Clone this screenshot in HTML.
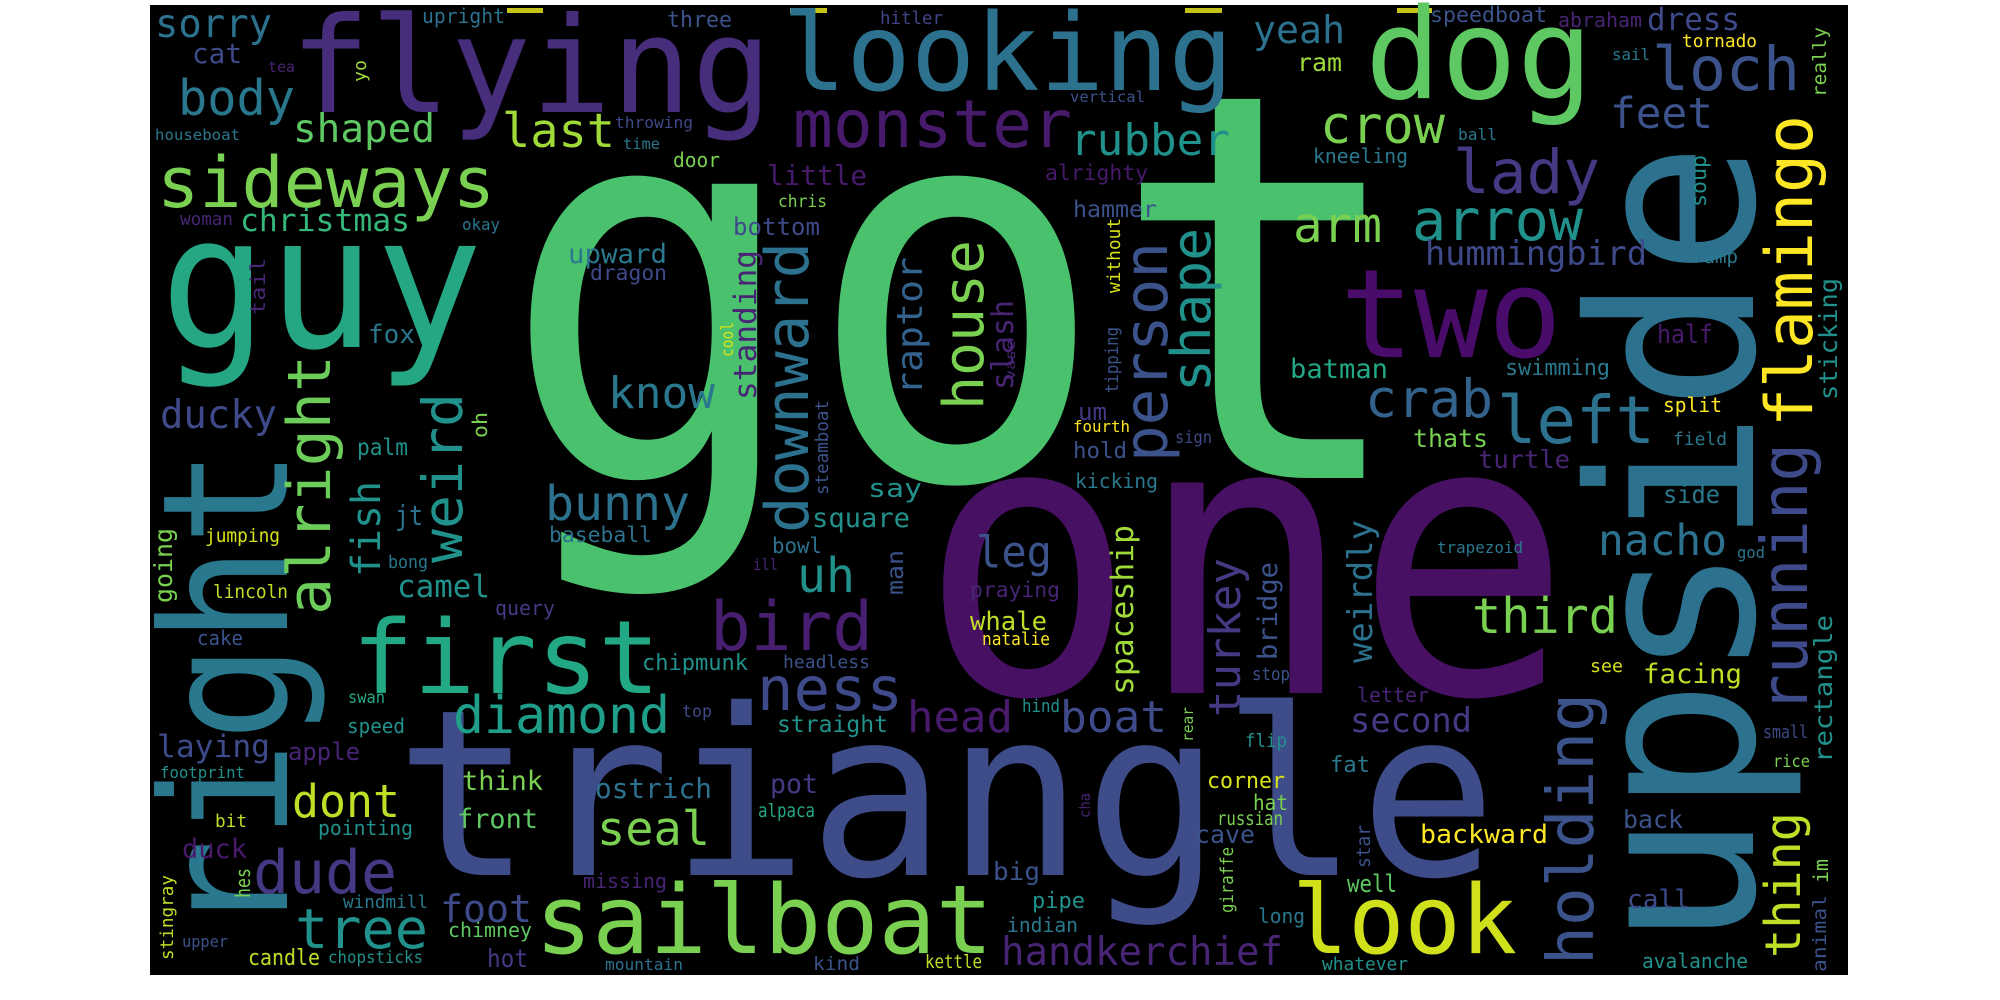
<!DOCTYPE html>
<html>
<head>
<meta charset="utf-8">
<style>
html,body{margin:0;padding:0;background:#fff;width:2000px;height:1000px;overflow:hidden}
svg{display:block}
text{font-family:"DejaVu Sans Mono","Liberation Mono",monospace}
</style>
</head>
<body>
<svg width="2000" height="1000" viewBox="0 0 2000 1000" xmlns="http://www.w3.org/2000/svg">
<rect x="150" y="5" width="1698" height="970" fill="#000"/>
<g fill="#c4c41c">
<rect x="507" y="8" width="36" height="5"/>
<rect x="790" y="8" width="37" height="5"/>
<rect x="1185" y="8" width="37" height="5"/>
<rect x="1397" y="8" width="35" height="5"/>
</g>
<g>
<!-- large words -->
<text x="500" y="478" font-size="540" fill="#4ac16d" textLength="913" lengthAdjust="spacingAndGlyphs">got</text>
<text x="919" y="693" font-size="385" fill="#471063" textLength="653" lengthAdjust="spacingAndGlyphs">one</text>
<text x="395" y="875" font-size="232" fill="#3e4c8a" textLength="1102" lengthAdjust="spacingAndGlyphs">triangle</text>
<text transform="translate(1753,948) rotate(-90)" font-size="228" fill="#2c718e" textLength="806" lengthAdjust="spacingAndGlyphs">upside</text>
<text transform="translate(287,937) rotate(-90)" font-size="175" fill="#2a788e" textLength="489" lengthAdjust="spacingAndGlyphs">right</text>
<text x="160" y="347" font-size="185" fill="#26a784" textLength="323" lengthAdjust="spacingAndGlyphs">guy</text>
<text x="290" y="112" font-size="133" fill="#472d7b" textLength="482" lengthAdjust="spacingAndGlyphs">flying</text>
<text x="782" y="90" font-size="107" fill="#2c718e" textLength="451" lengthAdjust="spacingAndGlyphs">looking</text>
<text x="1365" y="98" font-size="126" fill="#5ec962" textLength="228" lengthAdjust="spacingAndGlyphs">dog</text>
<text x="1340" y="357" font-size="123" fill="#4a0c6b" textLength="222" lengthAdjust="spacingAndGlyphs">two</text>
<text x="535" y="953" font-size="95" fill="#7ad151" textLength="458" lengthAdjust="spacingAndGlyphs">sailboat</text>
<text x="1292" y="953" font-size="95" fill="#d0e11c" textLength="225" lengthAdjust="spacingAndGlyphs">look</text>
<text x="352" y="693" font-size="102" fill="#22a884" textLength="308" lengthAdjust="spacingAndGlyphs">first</text>
<text x="157" y="207" font-size="70" fill="#7ad151" textLength="338" lengthAdjust="spacingAndGlyphs">sideways</text>
<text x="793" y="147" font-size="66" fill="#481a6c" textLength="279" lengthAdjust="spacingAndGlyphs">monster</text>
<text x="710" y="650" font-size="68" fill="#481f70" textLength="163" lengthAdjust="spacingAndGlyphs">bird</text>
<text x="757" y="710" font-size="61" fill="#3e4a89" textLength="146" lengthAdjust="spacingAndGlyphs">ness</text>
<!-- vertical words -->
<text transform="translate(1167,462) rotate(-90)" font-size="61" fill="#3b528b" textLength="220" lengthAdjust="spacingAndGlyphs">person</text>
<text transform="translate(1210,392) rotate(-90)" font-size="54" fill="#21918c" textLength="164" lengthAdjust="spacingAndGlyphs">shape</text>
<text transform="translate(1812,427) rotate(-90)" font-size="65" fill="#fde725" textLength="312" lengthAdjust="spacingAndGlyphs">flamingo</text>
<text transform="translate(1807,713) rotate(-90)" font-size="64" fill="#3e4a89" textLength="270" lengthAdjust="spacingAndGlyphs">running</text>
<text transform="translate(1593,965) rotate(-90)" font-size="64" fill="#3b528b" textLength="272" lengthAdjust="spacingAndGlyphs">holding</text>
<text transform="translate(983,410) rotate(-90)" font-size="56" fill="#7ad151" textLength="170" lengthAdjust="spacingAndGlyphs">house</text>
<text transform="translate(808,533) rotate(-90)" font-size="60" fill="#2c718e" textLength="291" lengthAdjust="spacingAndGlyphs">downward</text>
<text transform="translate(330,615) rotate(-90)" font-size="60" fill="#6ccd5a" textLength="260" lengthAdjust="spacingAndGlyphs">alright</text>
<text transform="translate(462,563) rotate(-90)" font-size="55" fill="#21918c" textLength="170" lengthAdjust="spacingAndGlyphs">weird</text>
<text transform="translate(380,577) rotate(-90)" font-size="40" fill="#21918c" textLength="96" lengthAdjust="spacingAndGlyphs">fish</text>
<text transform="translate(1240,717) rotate(-90)" font-size="44" fill="#443983" textLength="159" lengthAdjust="spacingAndGlyphs">turkey</text>
<text transform="translate(1372,663) rotate(-90)" font-size="34" fill="#2c718e" textLength="143" lengthAdjust="spacingAndGlyphs">weirdly</text>
<text transform="translate(1133,695) rotate(-90)" font-size="31" fill="#a0da39" textLength="170" lengthAdjust="spacingAndGlyphs">spaceship</text>
<text transform="translate(1277,660) rotate(-90)" font-size="27" fill="#3b528b" textLength="98" lengthAdjust="spacingAndGlyphs">bridge</text>
<text transform="translate(1800,958) rotate(-90)" font-size="49" fill="#bddf26" textLength="146" lengthAdjust="spacingAndGlyphs">thing</text>
<text transform="translate(756,400) rotate(-90)" font-size="31" fill="#482475" textLength="150" lengthAdjust="spacingAndGlyphs">standing</text>
<text transform="translate(922,395) rotate(-90)" font-size="36" fill="#33638d" textLength="138" lengthAdjust="spacingAndGlyphs">raptor</text>
<text transform="translate(1013,390) rotate(-90)" font-size="30" fill="#482475" textLength="90" lengthAdjust="spacingAndGlyphs">slash</text>
<text transform="translate(1832,763) rotate(-90)" font-size="25" fill="#21918c" textLength="148" lengthAdjust="spacingAndGlyphs">rectangle</text>
<text transform="translate(1837,400) rotate(-90)" font-size="25" fill="#21918c" textLength="122" lengthAdjust="spacingAndGlyphs">sticking</text>
<text transform="translate(1706,207) rotate(-90)" font-size="21" fill="#21918c" textLength="52" lengthAdjust="spacingAndGlyphs">soup</text>
<text transform="translate(1826,97) rotate(-90)" font-size="19" fill="#7ad151" textLength="70" lengthAdjust="spacingAndGlyphs">really</text>
<text transform="translate(1120,293) rotate(-90)" font-size="18" fill="#d8e219" textLength="75" lengthAdjust="spacingAndGlyphs">without</text>
<text transform="translate(1118,393) rotate(-90)" font-size="18" fill="#3b528b" textLength="66" lengthAdjust="spacingAndGlyphs">tipping</text>
<text transform="translate(1015,380) rotate(-90)" font-size="13" fill="#482475" textLength="40" lengthAdjust="spacingAndGlyphs">vase</text>
<text transform="translate(733,357) rotate(-90)" font-size="17" fill="#d8e219" textLength="35" lengthAdjust="spacingAndGlyphs">cool</text>
<text transform="translate(828,495) rotate(-90)" font-size="18" fill="#3b528b" textLength="95" lengthAdjust="spacingAndGlyphs">steamboat</text>
<text transform="translate(366,82) rotate(-90)" font-size="18" fill="#a0da39" textLength="22" lengthAdjust="spacingAndGlyphs">yo</text>
<text transform="translate(265,315) rotate(-90)" font-size="20" fill="#482475" textLength="57" lengthAdjust="spacingAndGlyphs">tail</text>
<text transform="translate(487,438) rotate(-90)" font-size="20" fill="#7ad151" textLength="26" lengthAdjust="spacingAndGlyphs">oh</text>
<text transform="translate(172,603) rotate(-90)" font-size="25" fill="#7ad151" textLength="75" lengthAdjust="spacingAndGlyphs">going</text>
<text transform="translate(250,898) rotate(-90)" font-size="20" fill="#7ad151" textLength="30" lengthAdjust="spacingAndGlyphs">hes</text>
<text transform="translate(173,960) rotate(-90)" font-size="18" fill="#bddf26" textLength="85" lengthAdjust="spacingAndGlyphs">stingray</text>
<text transform="translate(903,595) rotate(-90)" font-size="23" fill="#3b528b" textLength="45" lengthAdjust="spacingAndGlyphs">man</text>
<text transform="translate(1193,742) rotate(-90)" font-size="15" fill="#7ad151" textLength="35" lengthAdjust="spacingAndGlyphs">rear</text>
<text transform="translate(1090,818) rotate(-90)" font-size="15" fill="#482475" textLength="25" lengthAdjust="spacingAndGlyphs">cha</text>
<text transform="translate(1370,868) rotate(-90)" font-size="19" fill="#3b528b" textLength="43" lengthAdjust="spacingAndGlyphs">star</text>
<text transform="translate(1233,913) rotate(-90)" font-size="18" fill="#7ad151" textLength="66" lengthAdjust="spacingAndGlyphs">giraffe</text>
<text transform="translate(1828,883) rotate(-90)" font-size="20" fill="#7ad151" textLength="24" lengthAdjust="spacingAndGlyphs">im</text>
<text transform="translate(1826,972) rotate(-90)" font-size="19" fill="#3b528b" textLength="77" lengthAdjust="spacingAndGlyphs">animal</text>
<!-- medium and small horizontal words -->
<text x="155" y="37" font-size="39" fill="#2c718e" textLength="117" lengthAdjust="spacingAndGlyphs">sorry</text>
<text x="422" y="23" font-size="20" fill="#2c718e" textLength="83" lengthAdjust="spacingAndGlyphs">upright</text>
<text x="192" y="63" font-size="28" fill="#3e4a89" textLength="50" lengthAdjust="spacingAndGlyphs">cat</text>
<text x="268" y="72" font-size="15" fill="#482475" textLength="27" lengthAdjust="spacingAndGlyphs">tea</text>
<text x="178" y="115" font-size="49" fill="#2a788e" textLength="117" lengthAdjust="spacingAndGlyphs">body</text>
<text x="293" y="142" font-size="39" fill="#5ec962" textLength="142" lengthAdjust="spacingAndGlyphs">shaped</text>
<text x="502" y="147" font-size="47" fill="#a0da39" textLength="113" lengthAdjust="spacingAndGlyphs">last</text>
<text x="155" y="140" font-size="15" fill="#2a788e" textLength="85" lengthAdjust="spacingAndGlyphs">houseboat</text>
<text x="180" y="225" font-size="18" fill="#482475" textLength="53" lengthAdjust="spacingAndGlyphs">woman</text>
<text x="240" y="231" font-size="31" fill="#35b779" textLength="170" lengthAdjust="spacingAndGlyphs">christmas</text>
<text x="462" y="230" font-size="16" fill="#2a788e" textLength="38" lengthAdjust="spacingAndGlyphs">okay</text>
<text x="368" y="343" font-size="26" fill="#2a788e" textLength="47" lengthAdjust="spacingAndGlyphs">fox</text>
<text x="160" y="428" font-size="39" fill="#3e4a89" textLength="117" lengthAdjust="spacingAndGlyphs">ducky</text>
<text x="357" y="455" font-size="23" fill="#21918c" textLength="51" lengthAdjust="spacingAndGlyphs">palm</text>
<text x="667" y="27" font-size="22" fill="#3b528b" textLength="65" lengthAdjust="spacingAndGlyphs">three</text>
<text x="880" y="24" font-size="18" fill="#414487" textLength="63" lengthAdjust="spacingAndGlyphs">hitler</text>
<text x="615" y="128" font-size="16" fill="#3e4a89" textLength="78" lengthAdjust="spacingAndGlyphs">throwing</text>
<text x="623" y="149" font-size="15" fill="#2a788e" textLength="37" lengthAdjust="spacingAndGlyphs">time</text>
<text x="673" y="167" font-size="20" fill="#7ad151" textLength="47" lengthAdjust="spacingAndGlyphs">door</text>
<text x="767" y="185" font-size="28" fill="#481a6c" textLength="100" lengthAdjust="spacingAndGlyphs">little</text>
<text x="778" y="207" font-size="17" fill="#7ad151" textLength="49" lengthAdjust="spacingAndGlyphs">chris</text>
<text x="733" y="235" font-size="24" fill="#3e4a89" textLength="87" lengthAdjust="spacingAndGlyphs">bottom</text>
<text x="568" y="263" font-size="27" fill="#2a788e" textLength="99" lengthAdjust="spacingAndGlyphs">upward</text>
<text x="590" y="280" font-size="21" fill="#3e4a89" textLength="77" lengthAdjust="spacingAndGlyphs">dragon</text>
<text x="608" y="408" font-size="44" fill="#2a788e" textLength="107" lengthAdjust="spacingAndGlyphs">know</text>
<text x="868" y="497" font-size="26" fill="#21918c" textLength="54" lengthAdjust="spacingAndGlyphs">say</text>
<text x="1253" y="43" font-size="38" fill="#2c718e" textLength="92" lengthAdjust="spacingAndGlyphs">yeah</text>
<text x="1297" y="71" font-size="25" fill="#a0da39" textLength="45" lengthAdjust="spacingAndGlyphs">ram</text>
<text x="1070" y="102" font-size="15" fill="#3b528b" textLength="75" lengthAdjust="spacingAndGlyphs">vertical</text>
<text x="1070" y="155" font-size="44" fill="#21918c" textLength="160" lengthAdjust="spacingAndGlyphs">rubber</text>
<text x="1320" y="143" font-size="52" fill="#7ad151" textLength="125" lengthAdjust="spacingAndGlyphs">crow</text>
<text x="1313" y="163" font-size="20" fill="#2a788e" textLength="95" lengthAdjust="spacingAndGlyphs">kneeling</text>
<text x="1045" y="180" font-size="21" fill="#481a6c" textLength="103" lengthAdjust="spacingAndGlyphs">alrighty</text>
<text x="1073" y="217" font-size="23" fill="#3b528b" textLength="84" lengthAdjust="spacingAndGlyphs">hammer</text>
<text x="1293" y="242" font-size="49" fill="#7ad151" textLength="89" lengthAdjust="spacingAndGlyphs">arm</text>
<text x="1412" y="240" font-size="57" fill="#21918c" textLength="171" lengthAdjust="spacingAndGlyphs">arrow</text>
<text x="1290" y="378" font-size="27" fill="#22a884" textLength="98" lengthAdjust="spacingAndGlyphs">batman</text>
<text x="1365" y="417" font-size="53" fill="#33638d" textLength="128" lengthAdjust="spacingAndGlyphs">crab</text>
<text x="1078" y="420" font-size="24" fill="#443983" textLength="29" lengthAdjust="spacingAndGlyphs">um</text>
<text x="1073" y="432" font-size="16" fill="#fde725" textLength="57" lengthAdjust="spacingAndGlyphs">fourth</text>
<text x="1073" y="458" font-size="22" fill="#3b528b" textLength="54" lengthAdjust="spacingAndGlyphs">hold</text>
<text x="1175" y="443" font-size="17" fill="#3e4a89" textLength="37" lengthAdjust="spacingAndGlyphs">sign</text>
<text x="1075" y="488" font-size="20" fill="#2a788e" textLength="83" lengthAdjust="spacingAndGlyphs">kicking</text>
<text x="1413" y="447" font-size="25" fill="#7ad151" textLength="75" lengthAdjust="spacingAndGlyphs">thats</text>
<text x="1430" y="22" font-size="21" fill="#3b528b" textLength="117" lengthAdjust="spacingAndGlyphs">speedboat</text>
<text x="1558" y="27" font-size="20" fill="#482475" textLength="84" lengthAdjust="spacingAndGlyphs">abraham</text>
<text x="1647" y="30" font-size="31" fill="#3e4a89" textLength="93" lengthAdjust="spacingAndGlyphs">dress</text>
<text x="1652" y="90" font-size="61" fill="#3b528b" textLength="148" lengthAdjust="spacingAndGlyphs">loch</text>
<text x="1682" y="47" font-size="18" fill="#fde725" textLength="75" lengthAdjust="spacingAndGlyphs">tornado</text>
<text x="1612" y="60" font-size="16" fill="#2a788e" textLength="38" lengthAdjust="spacingAndGlyphs">sail</text>
<text x="1610" y="128" font-size="43" fill="#3b528b" textLength="103" lengthAdjust="spacingAndGlyphs">feet</text>
<text x="1458" y="140" font-size="16" fill="#2a788e" textLength="39" lengthAdjust="spacingAndGlyphs">ball</text>
<text x="1453" y="193" font-size="61" fill="#443983" textLength="147" lengthAdjust="spacingAndGlyphs">lady</text>
<text x="1692" y="263" font-size="19" fill="#2a788e" textLength="46" lengthAdjust="spacingAndGlyphs">ramp</text>
<text x="1425" y="265" font-size="34" fill="#3e4a89" textLength="222" lengthAdjust="spacingAndGlyphs">hummingbird</text>
<text x="1657" y="343" font-size="26" fill="#481a6c" textLength="56" lengthAdjust="spacingAndGlyphs">half</text>
<text x="1505" y="375" font-size="22" fill="#2a788e" textLength="105" lengthAdjust="spacingAndGlyphs">swimming</text>
<text x="1497" y="443" font-size="66" fill="#2c718e" textLength="158" lengthAdjust="spacingAndGlyphs">left</text>
<text x="1663" y="412" font-size="20" fill="#fde725" textLength="59" lengthAdjust="spacingAndGlyphs">split</text>
<text x="1673" y="445" font-size="18" fill="#2a788e" textLength="54" lengthAdjust="spacingAndGlyphs">field</text>
<text x="1478" y="468" font-size="25" fill="#482475" textLength="92" lengthAdjust="spacingAndGlyphs">turtle</text>
<text x="1663" y="503" font-size="25" fill="#2a788e" textLength="57" lengthAdjust="spacingAndGlyphs">side</text>
<text x="1437" y="553" font-size="16" fill="#2a788e" textLength="86" lengthAdjust="spacingAndGlyphs">trapezoid</text>
<text x="1598" y="555" font-size="43" fill="#2c718e" textLength="129" lengthAdjust="spacingAndGlyphs">nacho</text>
<text x="1737" y="558" font-size="16" fill="#2a788e" textLength="28" lengthAdjust="spacingAndGlyphs">god</text>
<text x="1472" y="633" font-size="49" fill="#7ad151" textLength="146" lengthAdjust="spacingAndGlyphs">third</text>
<text x="1590" y="672" font-size="18" fill="#d8e219" textLength="33" lengthAdjust="spacingAndGlyphs">see</text>
<text x="1643" y="683" font-size="27" fill="#bddf26" textLength="99" lengthAdjust="spacingAndGlyphs">facing</text>
<text x="1763" y="738" font-size="18" fill="#3e4a89" textLength="45" lengthAdjust="spacingAndGlyphs">small</text>
<text x="1773" y="767" font-size="17" fill="#7ad151" textLength="37" lengthAdjust="spacingAndGlyphs">rice</text>
<text x="1623" y="828" font-size="25" fill="#3b528b" textLength="60" lengthAdjust="spacingAndGlyphs">back</text>
<text x="1420" y="843" font-size="26" fill="#fde725" textLength="128" lengthAdjust="spacingAndGlyphs">backward</text>
<text x="1627" y="908" font-size="26" fill="#3e4a89" textLength="63" lengthAdjust="spacingAndGlyphs">call</text>
<text x="1642" y="968" font-size="20" fill="#21918c" textLength="106" lengthAdjust="spacingAndGlyphs">avalanche</text>
<text x="976" y="567" font-size="44" fill="#3b528b" textLength="76" lengthAdjust="spacingAndGlyphs">leg</text>
<text x="970" y="597" font-size="21" fill="#482475" textLength="90" lengthAdjust="spacingAndGlyphs">praying</text>
<text x="970" y="630" font-size="26" fill="#bddf26" textLength="77" lengthAdjust="spacingAndGlyphs">whale</text>
<text x="982" y="645" font-size="18" fill="#fde725" textLength="68" lengthAdjust="spacingAndGlyphs">natalie</text>
<text x="1252" y="680" font-size="18" fill="#3b528b" textLength="38" lengthAdjust="spacingAndGlyphs">stop</text>
<text x="1022" y="712" font-size="18" fill="#21918c" textLength="38" lengthAdjust="spacingAndGlyphs">hind</text>
<text x="1060" y="732" font-size="44" fill="#3e4a89" textLength="107" lengthAdjust="spacingAndGlyphs">boat</text>
<text x="907" y="732" font-size="44" fill="#481a6c" textLength="106" lengthAdjust="spacingAndGlyphs">head</text>
<text x="1357" y="702" font-size="20" fill="#482475" textLength="72" lengthAdjust="spacingAndGlyphs">letter</text>
<text x="1350" y="732" font-size="34" fill="#443983" textLength="122" lengthAdjust="spacingAndGlyphs">second</text>
<text x="1245" y="747" font-size="19" fill="#21918c" textLength="42" lengthAdjust="spacingAndGlyphs">flip</text>
<text x="1330" y="772" font-size="22" fill="#2a788e" textLength="40" lengthAdjust="spacingAndGlyphs">fat</text>
<text x="1207" y="788" font-size="22" fill="#d8e219" textLength="78" lengthAdjust="spacingAndGlyphs">corner</text>
<text x="1253" y="810" font-size="21" fill="#7ad151" textLength="35" lengthAdjust="spacingAndGlyphs">hat</text>
<text x="1217" y="825" font-size="19" fill="#7ad151" textLength="66" lengthAdjust="spacingAndGlyphs">russian</text>
<text x="1195" y="843" font-size="25" fill="#3b528b" textLength="60" lengthAdjust="spacingAndGlyphs">cave</text>
<text x="1347" y="892" font-size="24" fill="#5ec962" textLength="50" lengthAdjust="spacingAndGlyphs">well</text>
<text x="993" y="880" font-size="25" fill="#3b528b" textLength="47" lengthAdjust="spacingAndGlyphs">big</text>
<text x="1032" y="908" font-size="22" fill="#21918c" textLength="53" lengthAdjust="spacingAndGlyphs">pipe</text>
<text x="1007" y="932" font-size="20" fill="#2a788e" textLength="71" lengthAdjust="spacingAndGlyphs">indian</text>
<text x="1258" y="923" font-size="20" fill="#2a788e" textLength="47" lengthAdjust="spacingAndGlyphs">long</text>
<text x="1001" y="965" font-size="39" fill="#482475" textLength="282" lengthAdjust="spacingAndGlyphs">handkerchief</text>
<text x="1322" y="970" font-size="18" fill="#21918c" textLength="86" lengthAdjust="spacingAndGlyphs">whatever</text>
<text x="545" y="520" font-size="48" fill="#2c718e" textLength="145" lengthAdjust="spacingAndGlyphs">bunny</text>
<text x="549" y="542" font-size="21" fill="#2c718e" textLength="103" lengthAdjust="spacingAndGlyphs">baseball</text>
<text x="812" y="527" font-size="27" fill="#21918c" textLength="98" lengthAdjust="spacingAndGlyphs">square</text>
<text x="772" y="553" font-size="21" fill="#2c718e" textLength="50" lengthAdjust="spacingAndGlyphs">bowl</text>
<text x="753" y="570" font-size="16" fill="#482475" textLength="25" lengthAdjust="spacingAndGlyphs">ill</text>
<text x="797" y="592" font-size="48" fill="#21918c" textLength="58" lengthAdjust="spacingAndGlyphs">uh</text>
<text x="642" y="670" font-size="22" fill="#21918c" textLength="106" lengthAdjust="spacingAndGlyphs">chipmunk</text>
<text x="783" y="668" font-size="18" fill="#3b528b" textLength="87" lengthAdjust="spacingAndGlyphs">headless</text>
<text x="453" y="733" font-size="52" fill="#1f9e89" textLength="217" lengthAdjust="spacingAndGlyphs">diamond</text>
<text x="682" y="717" font-size="17" fill="#3e4a89" textLength="30" lengthAdjust="spacingAndGlyphs">top</text>
<text x="777" y="732" font-size="23" fill="#21918c" textLength="111" lengthAdjust="spacingAndGlyphs">straight</text>
<text x="595" y="798" font-size="28" fill="#2c718e" textLength="117" lengthAdjust="spacingAndGlyphs">ostrich</text>
<text x="770" y="793" font-size="27" fill="#443983" textLength="48" lengthAdjust="spacingAndGlyphs">pot</text>
<text x="758" y="817" font-size="19" fill="#22a884" textLength="57" lengthAdjust="spacingAndGlyphs">alpaca</text>
<text x="597" y="845" font-size="47" fill="#7ad151" textLength="113" lengthAdjust="spacingAndGlyphs">seal</text>
<text x="583" y="888" font-size="20" fill="#482475" textLength="84" lengthAdjust="spacingAndGlyphs">missing</text>
<text x="605" y="970" font-size="16" fill="#2c718e" textLength="78" lengthAdjust="spacingAndGlyphs">mountain</text>
<text x="813" y="970" font-size="19" fill="#3b528b" textLength="47" lengthAdjust="spacingAndGlyphs">kind</text>
<text x="925" y="968" font-size="19" fill="#bddf26" textLength="57" lengthAdjust="spacingAndGlyphs">kettle</text>
<text x="205" y="542" font-size="19" fill="#d8e219" textLength="75" lengthAdjust="spacingAndGlyphs">jumping</text>
<text x="395" y="525" font-size="28" fill="#2c718e" textLength="28" lengthAdjust="spacingAndGlyphs">jt</text>
<text x="388" y="568" font-size="18" fill="#2a788e" textLength="40" lengthAdjust="spacingAndGlyphs">bong</text>
<text x="213" y="598" font-size="19" fill="#bddf26" textLength="75" lengthAdjust="spacingAndGlyphs">lincoln</text>
<text x="397" y="597" font-size="31" fill="#21918c" textLength="93" lengthAdjust="spacingAndGlyphs">camel</text>
<text x="495" y="615" font-size="20" fill="#443983" textLength="60" lengthAdjust="spacingAndGlyphs">query</text>
<text x="197" y="645" font-size="20" fill="#3b528b" textLength="46" lengthAdjust="spacingAndGlyphs">cake</text>
<text x="348" y="703" font-size="17" fill="#22a884" textLength="37" lengthAdjust="spacingAndGlyphs">swan</text>
<text x="347" y="733" font-size="20" fill="#21918c" textLength="58" lengthAdjust="spacingAndGlyphs">speed</text>
<text x="157" y="757" font-size="31" fill="#3e4a89" textLength="113" lengthAdjust="spacingAndGlyphs">laying</text>
<text x="288" y="760" font-size="24" fill="#482475" textLength="72" lengthAdjust="spacingAndGlyphs">apple</text>
<text x="160" y="778" font-size="16" fill="#21918c" textLength="85" lengthAdjust="spacingAndGlyphs">footprint</text>
<text x="462" y="790" font-size="27" fill="#7ad151" textLength="81" lengthAdjust="spacingAndGlyphs">think</text>
<text x="292" y="817" font-size="45" fill="#bddf26" textLength="108" lengthAdjust="spacingAndGlyphs">dont</text>
<text x="457" y="828" font-size="27" fill="#5ec962" textLength="81" lengthAdjust="spacingAndGlyphs">front</text>
<text x="215" y="827" font-size="18" fill="#bddf26" textLength="32" lengthAdjust="spacingAndGlyphs">bit</text>
<text x="318" y="835" font-size="20" fill="#21918c" textLength="95" lengthAdjust="spacingAndGlyphs">pointing</text>
<text x="182" y="858" font-size="27" fill="#481a6c" textLength="65" lengthAdjust="spacingAndGlyphs">duck</text>
<text x="253" y="893" font-size="60" fill="#443983" textLength="144" lengthAdjust="spacingAndGlyphs">dude</text>
<text x="343" y="908" font-size="18" fill="#2a788e" textLength="85" lengthAdjust="spacingAndGlyphs">windmill</text>
<text x="440" y="922" font-size="38" fill="#3e4a89" textLength="92" lengthAdjust="spacingAndGlyphs">foot</text>
<text x="295" y="948" font-size="55" fill="#21918c" textLength="133" lengthAdjust="spacingAndGlyphs">tree</text>
<text x="448" y="937" font-size="20" fill="#5ec962" textLength="84" lengthAdjust="spacingAndGlyphs">chimney</text>
<text x="182" y="947" font-size="16" fill="#3b528b" textLength="46" lengthAdjust="spacingAndGlyphs">upper</text>
<text x="248" y="965" font-size="22" fill="#bddf26" textLength="72" lengthAdjust="spacingAndGlyphs">candle</text>
<text x="328" y="963" font-size="17" fill="#21918c" textLength="95" lengthAdjust="spacingAndGlyphs">chopsticks</text>
<text x="487" y="967" font-size="25" fill="#443983" textLength="41" lengthAdjust="spacingAndGlyphs">hot</text>
</g>
</svg>
</body>
</html>
